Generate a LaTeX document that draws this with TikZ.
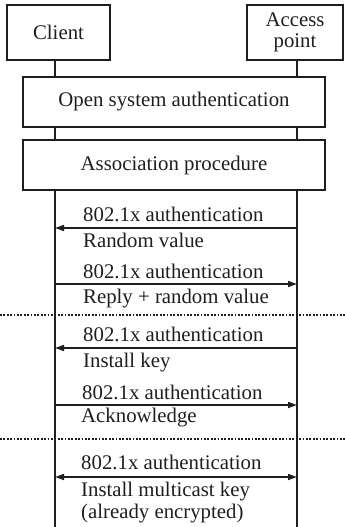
\documentclass[tikz,border=0pt]{standalone}
\usepackage{fontspec}
\setmainfont{Liberation Serif}
\usetikzlibrary{arrows.meta}
\definecolor{ink}{HTML}{1E1E1E}
\begin{document}
\begin{tikzpicture}[x=1pt,y=-1pt,
  txt/.style={font=\fontsize{20.8}{23}\selectfont, text=ink},
  box/.style={draw=ink, line width=2pt, inner sep=0pt, txt, align=center},
  life/.style={draw=ink, line width=1.6pt},
  msg/.style={draw=ink, line width=1.6pt, -{Triangle[length=9pt,width=6pt]}},
  msgboth/.style={draw=ink, line width=1.6pt, {Triangle[length=9pt,width=6pt]}-{Triangle[length=9pt,width=6pt]}},
  lbl/.style={txt, anchor=base west, inner sep=0pt},
  sep/.style={draw=ink, line width=2.4pt, dash pattern=on 1.8pt off 1.6pt}]
\useasboundingbox (0,0) rectangle (345,527);
% boxes
\node[box, minimum width=103pt, minimum height=55pt] (client) at (58.5,32.5) {Client};
\node[box, minimum width=96pt, minimum height=55pt] (ap) at (295,32.5) {Access\\[-2pt]point};
\node[box, minimum width=302pt, minimum height=50pt] (open) at (174,102) {Open system authentication};
\node[box, minimum width=302pt, minimum height=50pt] (assoc) at (174,165) {Association procedure};
% lifelines
\coordinate (cx) at (55,0);
\coordinate (ax) at (297,0);
\coordinate (cend) at (55,527);
\coordinate (aend) at (297,527);
\draw[life] (client.south -| cx) -- (open.north -| cx);
\draw[life] (ap.south -| ax) -- (open.north -| ax);
\draw[life] (open.south -| cx) -- (assoc.north -| cx);
\draw[life] (open.south -| ax) -- (assoc.north -| ax);
\draw[life] (assoc.south -| cx) -- (cend);
\draw[life] (assoc.south -| ax) -- (aend);
% message 1
\coordinate (m1c) at (55,228); \coordinate (m1a) at (297,228);
\draw[msg] (m1a) -- (m1c);
\node[lbl] (t1a) at (83,221) {802.1x authentication};
\node[lbl] (t1b) at (83,247) {Random value};
% message 2
\coordinate (m2c) at (55,284); \coordinate (m2a) at (297,284);
\draw[msg] (m2c) -- (m2a);
\node[lbl] (t2a) at (83,278) {802.1x authentication};
\node[lbl] (t2b) at (83,303) {Reply + random value};
% separator 1
\coordinate (s1l) at (0,315); \coordinate (s1r) at (345,315);
\draw[sep] (s1l) -- (s1r);
% message 3
\coordinate (m3c) at (55,348); \coordinate (m3a) at (297,348);
\draw[msg] (m3a) -- (m3c);
\node[lbl] (t3a) at (83,341) {802.1x authentication};
\node[lbl] (t3b) at (83,367) {Install key};
% message 4
\coordinate (m4c) at (55,405); \coordinate (m4a) at (297,405);
\draw[msg] (m4c) -- (m4a);
\node[lbl] (t4a) at (82,399) {802.1x authentication};
\node[lbl] (t4b) at (81,422) {Acknowledge};
% separator 2
\coordinate (s2l) at (0,439); \coordinate (s2r) at (345,439);
\draw[sep] (s2l) -- (s2r);
% message 5
\coordinate (m5c) at (55,477); \coordinate (m5a) at (297,477);
\draw[msgboth] (m5c) -- (m5a);
\node[lbl] (t5a) at (81,469) {802.1x authentication};
\node[lbl] (t5b) at (81,496) {Install multicast key};
\node[lbl] (t5c) at (81,518) {(already encrypted)};
\end{tikzpicture}
\end{document}
